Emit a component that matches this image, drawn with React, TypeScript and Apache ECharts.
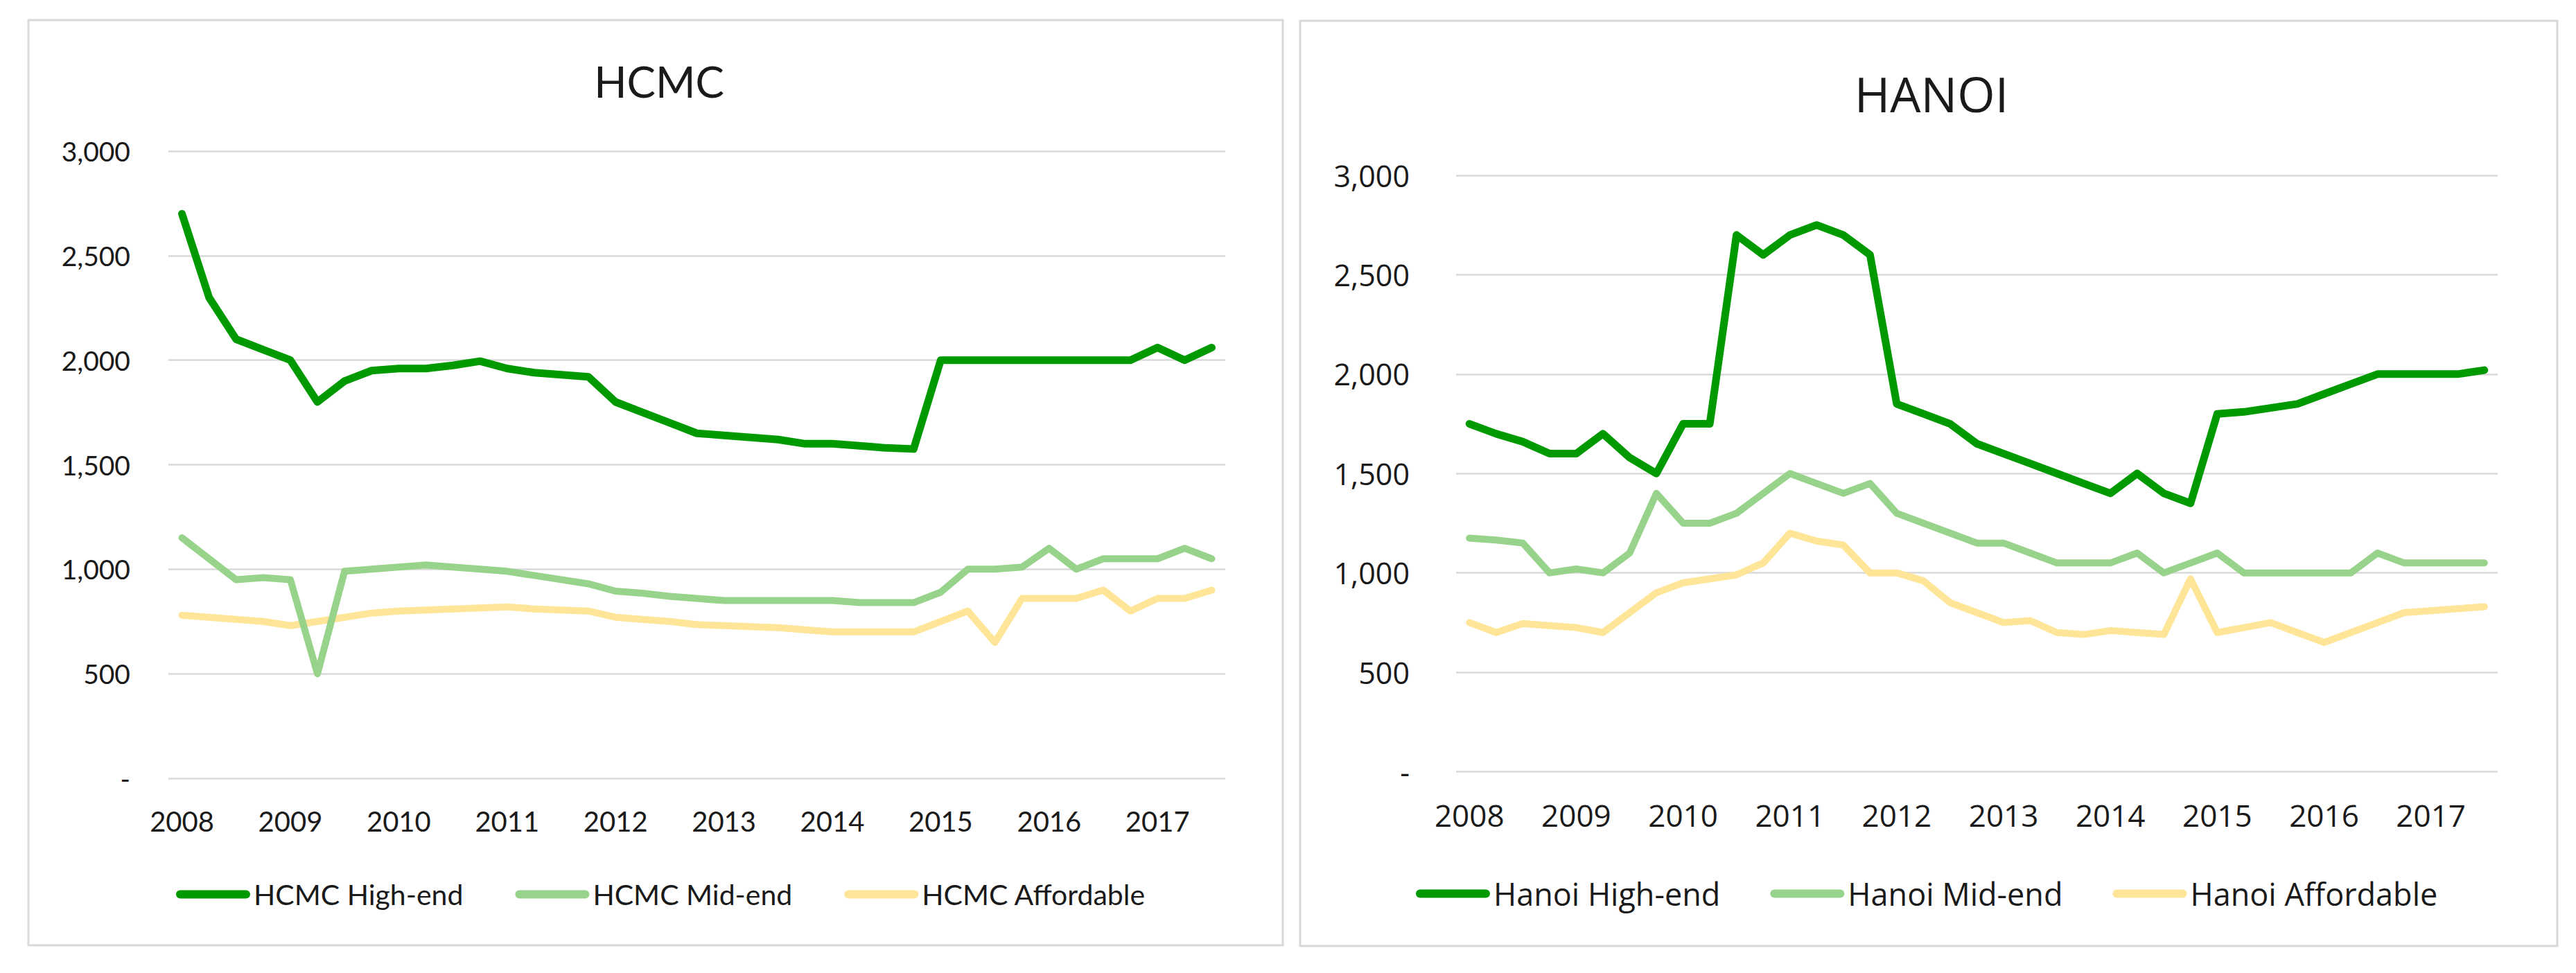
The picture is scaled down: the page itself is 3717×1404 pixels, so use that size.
import React, { useEffect, useRef } from "react";
import * as echarts from "echarts";

const quarters = [
  "2008 Q1", "2008 Q2", "2008 Q3", "2008 Q4",
  "2009 Q1", "2009 Q2", "2009 Q3", "2009 Q4",
  "2010 Q1", "2010 Q2", "2010 Q3", "2010 Q4",
  "2011 Q1", "2011 Q2", "2011 Q3", "2011 Q4",
  "2012 Q1", "2012 Q2", "2012 Q3", "2012 Q4",
  "2013 Q1", "2013 Q2", "2013 Q3", "2013 Q4",
  "2014 Q1", "2014 Q2", "2014 Q3", "2014 Q4",
  "2015 Q1", "2015 Q2", "2015 Q3", "2015 Q4",
  "2016 Q1", "2016 Q2", "2016 Q3", "2016 Q4",
  "2017 Q1", "2017 Q2", "2017 Q3",
];

const hcmcHighEnd = [2700, 2300, 2100, 2050, 2000, 1800, 1900, 1950, 1960, 1960, 1975, 1995, 1960, 1940, 1930, 1920, 1800, 1750, 1700, 1650, 1640, 1630, 1620, 1600, 1600, 1590, 1580, 1575, 2000, 2000, 2000, 2000, 2000, 2000, 2000, 2000, 2060, 2000, 2060];
const hcmcMidEnd = [1150, 1050, 950, 960, 950, 500, 990, 1000, 1010, 1020, 1010, 1000, 990, 970, 950, 930, 895, 885, 870, 860, 850, 850, 850, 850, 850, 840, 840, 840, 890, 1000, 1000, 1010, 1100, 1000, 1050, 1050, 1050, 1100, 1050];
const hcmcAffordable = [780, 770, 760, 750, 730, 750, 770, 790, 800, 805, 810, 815, 820, 810, 805, 800, 770, 760, 750, 735, 730, 725, 720, 710, 700, 700, 700, 700, 750, 800, 650, 860, 860, 860, 900, 800, 860, 860, 900];

const hanoiHighEnd = [1750, 1700, 1660, 1600, 1600, 1700, 1580, 1500, 1750, 1750, 2700, 2600, 2700, 2750, 2700, 2600, 1850, 1800, 1750, 1650, 1600, 1550, 1500, 1450, 1400, 1500, 1400, 1350, 1800, 1810, 1830, 1850, 1900, 1950, 2000, 2000, 2000, 2000, 2020];
const hanoiMidEnd = [1175, 1165, 1150, 1000, 1020, 1000, 1100, 1400, 1250, 1250, 1300, 1400, 1500, 1450, 1400, 1450, 1300, 1250, 1200, 1150, 1150, 1100, 1050, 1050, 1050, 1100, 1000, 1050, 1100, 1000, 1000, 1000, 1000, 1000, 1100, 1050, 1050, 1050, 1050];
const hanoiAffordable = [750, 700, 745, 735, 725, 700, 800, 900, 950, 970, 990, 1050, 1200, 1160, 1140, 1000, 1000, 960, 850, 800, 750, 760, 700, 690, 710, 700, 690, 970, 700, 725, 750, 700, 650, 700, 750, 800, 810, 820, 830];

const hcmcNames = ["HCMC High-end", "HCMC Mid-end", "HCMC Affordable"];
const hanoiNames = ["Hanoi High-end", "Hanoi Mid-end", "Hanoi Affordable"];

const COLORS = ["#009a00", "#98d38b", "#ffe597"];
const GRID_COLOR = "#d9d9d9";
const TEXT_COLOR = "#1a1a1a";
const LEGEND_ICON = "path://M6,0 H101 A6,6 0 0 1 101,12 H6 A6,6 0 0 1 6,0 Z";

const yFormatter = (v: number) => (v === 0 ? "-" : v.toLocaleString("en-US"));

export default function App() {
  const ref = useRef<HTMLDivElement>(null);

  useEffect(() => {
    if (!ref.current) return;
    const chart = echarts.init(ref.current, undefined, { renderer: "svg" });

    const mkX = (gridIndex: number, font: string, size: number, margin: number) => ({
      type: "category" as const,
      gridIndex,
      data: quarters,
      boundaryGap: true,
      axisLine: { show: false },
      axisTick: { show: false },
      axisLabel: {
        interval: 3,
        margin,
        formatter: (v: string) => v.slice(0, 4),
        fontFamily: font,
        fontSize: size,
        color: TEXT_COLOR,
      },
    });
    const mkY = (gridIndex: number, font: string, size: number, margin: number) => ({
      type: "value" as const,
      gridIndex,
      min: 0,
      max: 3000,
      interval: 500,
      axisLine: { show: false },
      axisTick: { show: false },
      splitLine: { show: true, lineStyle: { color: GRID_COLOR, width: 2.5 } },
      axisLabel: {
        margin,
        formatter: yFormatter,
        fontFamily: font,
        fontSize: size,
        color: TEXT_COLOR,
      },
    });
    const mkSeries = (name: string, data: number[], idx: number, axis: number, width: number) => ({
      name,
      type: "line" as const,
      xAxisIndex: axis,
      yAxisIndex: axis,
      data,
      symbol: "none",
      showSymbol: false,
      color: COLORS[idx],
      itemStyle: { color: COLORS[idx] },
      lineStyle: { color: COLORS[idx], width, cap: "round", join: "round" },
      emphasis: { disabled: true },
      z: 10 - idx,
    });

    chart.setOption({
      animation: false,
      backgroundColor: "#ffffff",
      title: [
        {
          text: "HCMC",
          left: 946,
          top: 112,
          textAlign: "center",
          textVerticalAlign: "middle",
          textStyle: { fontFamily: "Lato", fontSize: 62, fontWeight: "normal", color: TEXT_COLOR },
        },
        {
          text: "HANOI",
          left: 2782,
          top: 130,
          textAlign: "center",
          textVerticalAlign: "middle",
          textStyle: { fontFamily: "Open Sans", fontSize: 70, fontWeight: "normal", color: TEXT_COLOR },
        },
      ],
      graphic: [
        {
          type: "rect",
          shape: { x: 41, y: 29, width: 1810, height: 1335 },
          style: { fill: "none", stroke: GRID_COLOR, lineWidth: 3 },
          z: -1,
        },
        {
          type: "rect",
          shape: { x: 1876, y: 30, width: 1814, height: 1335 },
          style: { fill: "none", stroke: GRID_COLOR, lineWidth: 3 },
          z: -1,
        },
      ],
      legend: [
        {
          data: hcmcNames,
          left: 249,
          top: 1265,
          itemWidth: 107,
          itemHeight: 12,
          itemGap: 75,
          icon: LEGEND_ICON,
          selectedMode: false,
          textStyle: { fontFamily: "Lato", fontSize: 41, color: TEXT_COLOR },
        },
        {
          data: hanoiNames,
          left: 2038,
          top: 1262,
          itemWidth: 107,
          itemHeight: 12,
          itemGap: 72,
          icon: LEGEND_ICON,
          selectedMode: false,
          textStyle: { fontFamily: "Open Sans", fontSize: 45, color: TEXT_COLOR },
        },
      ],
      grid: [
        { left: 243, top: 218, width: 1525, height: 905 },
        { left: 2101, top: 253, width: 1503, height: 860.5 },
      ],
      xAxis: [mkX(0, "Lato", 40, 42), mkX(1, "Open Sans", 44, 40)],
      yAxis: [mkY(0, "Lato", 39, 55), mkY(1, "Open Sans", 43, 67)],
      series: [
        mkSeries(hcmcNames[0], hcmcHighEnd, 0, 0, 11),
        mkSeries(hcmcNames[1], hcmcMidEnd, 1, 0, 10),
        mkSeries(hcmcNames[2], hcmcAffordable, 2, 0, 10),
        mkSeries(hanoiNames[0], hanoiHighEnd, 0, 1, 11),
        mkSeries(hanoiNames[1], hanoiMidEnd, 1, 1, 10),
        mkSeries(hanoiNames[2], hanoiAffordable, 2, 1, 10),
      ],
    });

    return () => chart.dispose();
  }, []);

  return (
    <div
      ref={ref}
      style={{ position: "fixed", left: 0, top: 0, width: 3717, height: 1404, background: "#fff" }}
    />
  );
}
